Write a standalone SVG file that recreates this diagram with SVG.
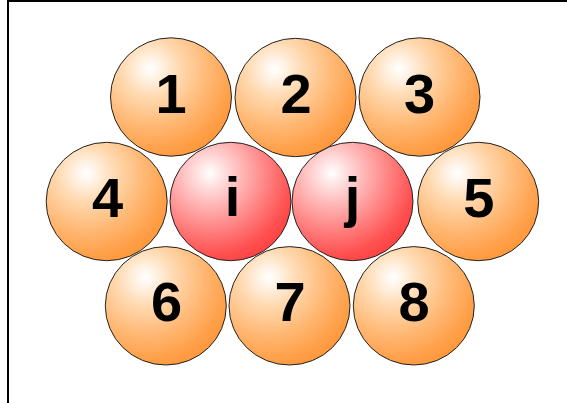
<svg xmlns="http://www.w3.org/2000/svg" width="567" height="403" viewBox="0 0 567 403">
<defs>
<radialGradient id="gOrange" cx="0.33" cy="0.27" r="0.8" fx="0.33" fy="0.26">
<stop offset="0" stop-color="#FFFFFF"/>
<stop offset="0.08" stop-color="#FFF6EC"/>
<stop offset="0.3" stop-color="#FFD9B0"/>
<stop offset="0.6" stop-color="#FFB874"/>
<stop offset="0.85" stop-color="#FFA04A"/>
<stop offset="1" stop-color="#FF9638"/>
</radialGradient>
<radialGradient id="gRed" cx="0.33" cy="0.27" r="0.8" fx="0.33" fy="0.26">
<stop offset="0" stop-color="#FFFFFF"/>
<stop offset="0.08" stop-color="#FFEDED"/>
<stop offset="0.3" stop-color="#FFBDBD"/>
<stop offset="0.6" stop-color="#FF8080"/>
<stop offset="0.85" stop-color="#FF5050"/>
<stop offset="1" stop-color="#FF4040"/>
</radialGradient>
</defs>
<style>
.o{fill:url(#gOrange);stroke:#222;stroke-width:1}
.r{fill:url(#gRed);stroke:#222;stroke-width:1}
.t{font-family:"Liberation Sans",Arial,sans-serif;font-weight:bold;font-size:56px;fill:#000;text-anchor:middle}
</style>
<path d="M8,403 V1 H567" fill="none" stroke="#000" stroke-width="2"/>
<g id="n1"><ellipse class="o" cx="171" cy="97" rx="60.5" ry="59.2"/><text class="t" x="171" y="112.7">1</text></g>
<g id="n2"><ellipse class="o" cx="295.5" cy="97.5" rx="60.5" ry="59.2"/><text class="t" x="296" y="112.7">2</text></g>
<g id="n3"><ellipse class="o" cx="419.5" cy="97" rx="60.5" ry="59.2"/><text class="t" x="419.5" y="112.7">3</text></g>
<g id="n4"><ellipse class="o" cx="106.7" cy="201.5" rx="60.5" ry="59.2"/><text class="t" x="107.5" y="216.8">4</text></g>
<g id="ni"><ellipse class="r" cx="230.5" cy="201.5" rx="60.5" ry="59.2"/><text class="t" x="232.5" y="216.2">i</text></g>
<g id="nj"><ellipse class="r" cx="352.5" cy="201.5" rx="60.5" ry="59.2"/><text class="t" x="352.5" y="216.2">j</text></g>
<g id="n5"><ellipse class="o" cx="478.2" cy="201.5" rx="60.5" ry="59.2"/><text class="t" x="478.8" y="217.3">5</text></g>
<g id="n6"><ellipse class="o" cx="165.8" cy="305.8" rx="60.5" ry="59.2"/><text class="t" x="166.5" y="321">6</text></g>
<g id="n7"><ellipse class="o" cx="289.5" cy="305.8" rx="60.5" ry="59.2"/><text class="t" x="290" y="321">7</text></g>
<g id="n8"><ellipse class="o" cx="413.8" cy="305.8" rx="60.5" ry="59.2"/><text class="t" x="414" y="321">8</text></g>
<g id="connectors"/>
</svg>
